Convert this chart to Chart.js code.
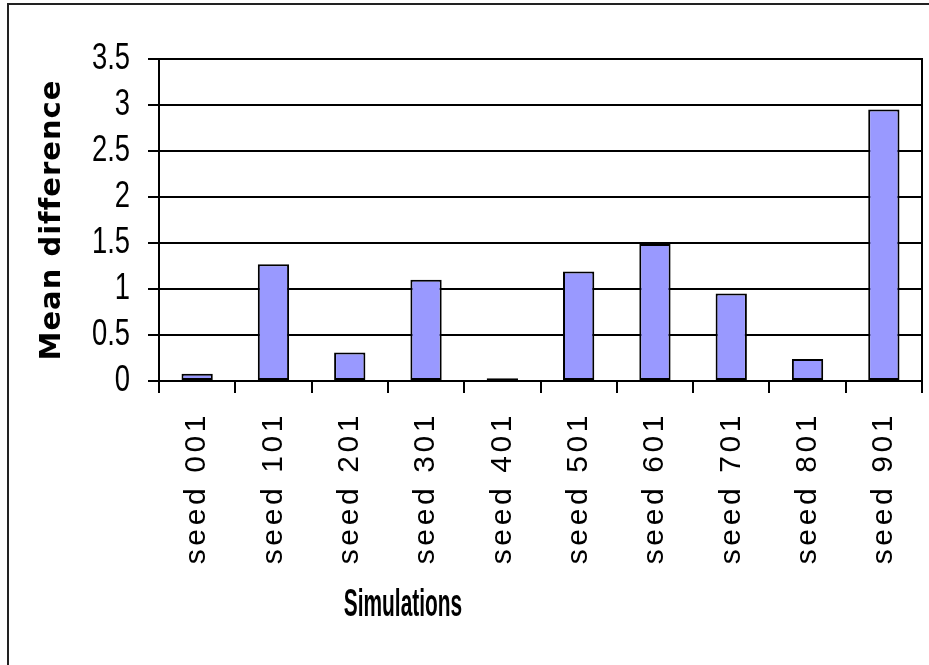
<!DOCTYPE html>
<html>
<head>
<meta charset="utf-8">
<script src="https://cdn.jsdelivr.net/npm/chart.js@4"></script>
<style>
  html, body { margin: 0; padding: 0; background: #fff; }
  #frame { position: absolute; left: 7px; top: 3px; width: 940px; height: 680px; border: 2px solid #222; }
  #wrap { position: absolute; left: 0; top: 0; width: 929px; height: 665px; }
</style>
</head>
<body>
<div id="frame"></div>
<div id="wrap"><canvas id="chart"></canvas></div>
<script>
const seeds = ["seed 001", "seed 101", "seed 201", "seed 301", "seed 401", "seed 501", "seed 601", "seed 701", "seed 801", "seed 901"];
const meanDiff = [0.08, 1.27, 0.31, 1.10, 0.03, 1.19, 1.49, 0.95, 0.24, 2.95];
const yTitle = "Mean difference";
const xTitle = "Simulations";

// the old Excel fonts are spaced / condensed differently, so wrap a few draw calls
function wrapDraw(obj, method, before) {
  const orig = Object.getPrototypeOf(obj)[method];
  obj[method] = function(...args) {
    const ctx = this.ctx;
    ctx.save();
    before.call(this, ctx);
    orig.apply(this, args);
    ctx.restore();
  };
}

function squeezeAt(ctx, ox, sx) {
  ctx.translate(ox, 0);
  ctx.scale(sx, 1);
  ctx.translate(-ox, 0);
}

const textTweaks = {
  id: "textTweaks",
  afterLayout(chart) {
    wrapDraw(chart.scales.x, "drawLabels", ctx => { ctx.letterSpacing = "3.6px"; });
    wrapDraw(chart.scales.y, "drawLabels", function(ctx) {
      squeezeAt(ctx, this.right - 11 - 18, 0.74);
    });
    wrapDraw(chart.scales.y, "drawTitle", ctx => { ctx.letterSpacing = "1px"; });
    if (chart.titleBlock) {
      // bottom title sits left of centre in the original
      chart.titleBlock.left = 0;
      chart.titleBlock.right = 806;
      wrapDraw(chart.titleBlock, "draw", ctx => squeezeAt(ctx, 403, 0.55));
    }
  }
};

new Chart(document.getElementById("chart"), {
  type: "bar",
  data: {
    labels: seeds,
    datasets: [{
      data: meanDiff,
      backgroundColor: "#9999ff",
      borderColor: "#000",
      borderWidth: 2,
      borderSkipped: false,
      barPercentage: 0.41,
      categoryPercentage: 1
    }]
  },
  options: {
    responsive: true,
    maintainAspectRatio: false,
    animation: false,
    layout: { padding: { top: 59, right: 7, bottom: 40, left: 0 } },
    plugins: {
      legend: { display: false },
      tooltip: { enabled: false },
      title: {
        display: true,
        text: xTitle,
        position: "bottom",
        color: "#000",
        padding: 0,
        font: { family: "'Liberation Sans', Arial, sans-serif", size: 38, weight: "bold", lineHeight: 1 }
      }
    },
    scales: {
      x: {
        grid: { drawOnChartArea: false, color: "#000", lineWidth: 2, tickLength: 12 },
        border: { color: "#000", width: 2 },
        ticks: {
          color: "#000",
          autoSkip: false,
          maxRotation: 90,
          minRotation: 90,
          padding: 19,
          font: { family: "'Liberation Sans', Arial, sans-serif", size: 30 }
        },
        afterFit(scale) {
          scale.height = 206;
          scale.paddingLeft = 0;
          scale.paddingRight = 0;
        }
      },
      y: {
        min: 0,
        max: 3.5,
        grid: { color: "#000", lineWidth: 2, tickLength: 11 },
        border: { color: "#000", width: 2 },
        ticks: {
          stepSize: 0.5,
          autoSkip: false,
          color: "#000",
          padding: 18,
          font: { family: "'Liberation Sans', Arial, sans-serif", size: 37 },
          callback: value => String(+value.toFixed(1))
        },
        title: {
          display: true,
          text: yTitle,
          color: "#000",
          padding: { top: 35, bottom: 0 },
          font: { family: "'DejaVu Sans', sans-serif", size: 29, weight: "bold", lineHeight: 1.2 }
        },
        afterFit(scale) { scale.width = 159; }
      },
      y2: {
        position: "right",
        min: 0,
        max: 3.5,
        ticks: { display: false },
        grid: { display: false, drawTicks: false },
        border: { color: "#000", width: 2 },
        afterFit(scale) { scale.width = 0; }
      }
    }
  },
  plugins: [textTweaks]
});
</script>
</body>
</html>
